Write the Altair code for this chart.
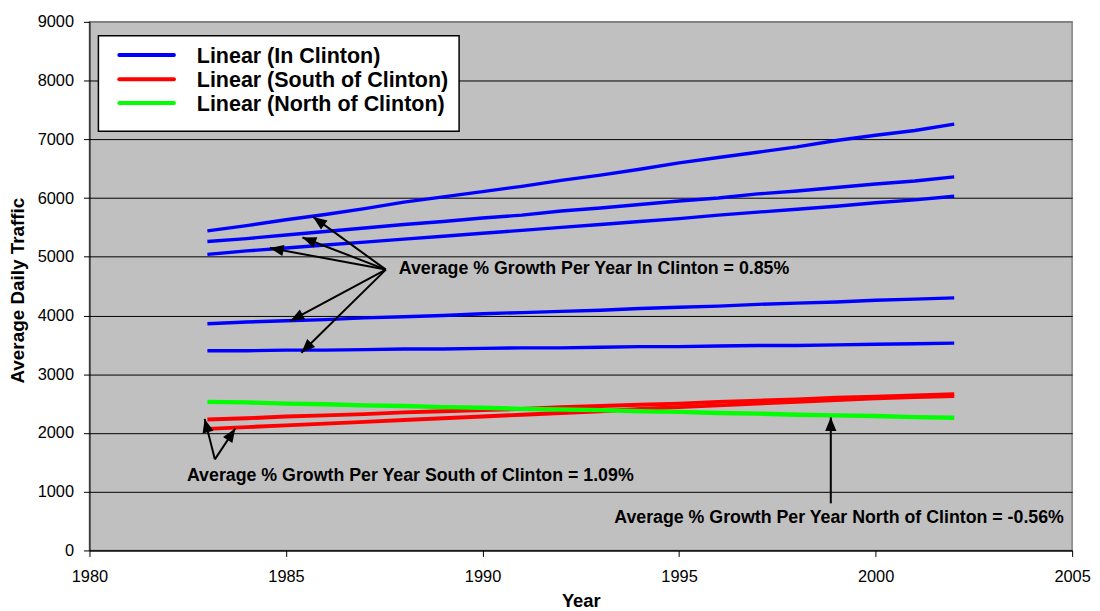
import math
import altair as alt
import pandas as pd

FONT = "Liberation Sans"

# ---------------- data ----------------
years = list(range(1983, 2003))

in_clinton_a = [5440, 5530, 5630, 5720, 5820, 5930, 6020, 6110, 6200, 6300,
                6390, 6490, 6600, 6690, 6780, 6870, 6980, 7070, 7150, 7260]
in_clinton_b = [5260, 5310, 5370, 5430, 5490, 5550, 5600, 5660, 5710, 5780,
                5830, 5890, 5950, 6000, 6070, 6120, 6180, 6240, 6290, 6360]
in_clinton_c = [5040, 5100, 5150, 5200, 5250, 5300, 5350, 5400, 5450, 5500,
                5550, 5600, 5650, 5710, 5760, 5810, 5860, 5920, 5970, 6030]
in_clinton_d = [3860, 3890, 3910, 3930, 3960, 3980, 4000, 4030, 4050, 4070,
                4090, 4120, 4140, 4160, 4190, 4210, 4230, 4260, 4280, 4300]
in_clinton_e = [3400, 3400, 3410, 3410, 3420, 3430, 3430, 3440, 3450, 3450,
                3460, 3470, 3470, 3480, 3490, 3490, 3500, 3510, 3520, 3530]
south_a = [2230, 2250, 2280, 2300, 2320, 2350, 2370, 2390, 2410, 2440,
           2460, 2480, 2500, 2530, 2550, 2570, 2600, 2620, 2640, 2660]
south_b = [2070, 2100, 2130, 2160, 2190, 2220, 2250, 2280, 2310, 2340,
           2370, 2410, 2440, 2470, 2500, 2530, 2560, 2590, 2610, 2630]
north_a = [2530, 2520, 2500, 2490, 2470, 2460, 2440, 2430, 2410, 2400,
           2390, 2370, 2360, 2340, 2330, 2310, 2300, 2290, 2270, 2260]

regions = ["In Clinton", "South of Clinton", "North of Clinton"]
region_colors = ["#0000FF", "#FF0000", "#00FF00"]
legend_labels = ["Linear (In Clinton)", "Linear (South of Clinton)", "Linear (North of Clinton)"]

series_list = [
    ("c1", "In Clinton", in_clinton_a),
    ("c2", "In Clinton", in_clinton_b),
    ("c3", "In Clinton", in_clinton_c),
    ("c4", "In Clinton", in_clinton_d),
    ("c5", "In Clinton", in_clinton_e),
    ("s1", "South of Clinton", south_a),
    ("s2", "South of Clinton", south_b),
    ("n1", "North of Clinton", north_a),
]

x_ticks = [1980, 1985, 1990, 1995, 2000, 2005]
y_ticks = [0, 1000, 2000, 3000, 4000, 5000, 6000, 7000, 8000, 9000]

# annotation arrows (tail -> tip), in data units
arrow_tail_year = [1987.54, 1987.54, 1987.54, 1987.54, 1987.54, 1983.19, 1983.19, 1998.86]
arrow_tail_value = [4782, 4782, 4782, 4782, 4782, 1551, 1551, 802]
arrow_tip_year = [1985.69, 1985.42, 1984.59, 1985.11, 1985.39, 1982.93, 1983.71, 1998.86]
arrow_tip_value = [5679, 5329, 5150, 3908, 3366, 2240, 2076, 2267]

note_texts = [
    "Average % Growth Per Year In Clinton = 0.85%",
    "Average % Growth Per Year South of Clinton = 1.09%",
    "Average % Growth Per Year North of Clinton = -0.56%",
]
note_year = [1987.87, 1982.48, 1993.35]
note_value = [4711, 1184, 463]

# ---------------- layout ----------------
W, H = 989, 532
X_DOM = [1980, 2005]
Y_DOM = [0, 9000]

rows = []
for sid, region, vals in series_list:
    for yr, v in zip(years, vals):
        rows.append({"series": sid, "region": region, "year": yr, "value": v})
df_lines = pd.DataFrame(rows)

px_per_year = W / (X_DOM[1] - X_DOM[0])
px_per_val = H / (Y_DOM[1] - Y_DOM[0])
arrows = []
for tx, ty, hx, hy in zip(arrow_tail_year, arrow_tail_value, arrow_tip_year, arrow_tip_value):
    dx = (hx - tx) * px_per_year
    dy = -(hy - ty) * px_per_val
    ang = math.degrees(math.atan2(dx, -dy)) % 360
    arrows.append({"year": tx, "value": ty, "year2": hx, "value2": hy, "angle": ang})
df_arrows = pd.DataFrame(arrows)

df_notes = pd.DataFrame({"year": note_year, "value": note_value, "text": note_texts})

x_scale = alt.Scale(domain=X_DOM, nice=False, zero=False)
y_scale = alt.Scale(domain=Y_DOM, nice=False, zero=False)

x_axis = alt.Axis(
    values=x_ticks, format="d", title="Year", grid=False,
    tickSize=6, tickColor="black", domainColor="black", domainWidth=1,
    labelPadding=12, labelFontSize=16.5, labelFont=FONT, labelColor="black",
    labelFlush=False, labelOverlap=False,
    titleFont=FONT, titleFontSize=18.5, titleFontWeight="bold", titleColor="black",
    titleY=56, titleBaseline="alphabetic",
)
y_axis = alt.Axis(
    values=y_ticks, format="d", title="Average Daily Traffic", grid=True,
    gridColor={"condition": {"test": "datum.value == 9000", "value": "#808080"}, "value": "black"},
    gridWidth=1, gridOpacity=1,
    tickSize=6, tickColor="black", domainColor="black", domainWidth=1,
    labelPadding=10, labelFontSize=16.5, labelFont=FONT, labelColor="black",
    labelOverlap=False,
    titleFont=FONT, titleFontSize=19, titleFontWeight="bold", titleColor="black",
    titleX=-66, titleY=270, titleAlign="center", titleBaseline="alphabetic",
)

X = lambda f: alt.X(f, scale=x_scale, axis=x_axis, title="Year")
Y = lambda f: alt.Y(f, scale=y_scale, axis=y_axis, title="Average Daily Traffic")

lines = alt.Chart(df_lines).mark_line(strokeCap="butt").encode(
    x=X("year:Q"),
    y=Y("value:Q"),
    detail="series:N",
    order="year:Q",
    color=alt.Color("region:N", scale=alt.Scale(domain=regions, range=region_colors), legend=None),
    strokeWidth=alt.StrokeWidth("region:N", scale=alt.Scale(domain=regions, range=[3.4, 4.4, 3.4]), legend=None),
)

shafts = alt.Chart(df_arrows).mark_rule(color="black", strokeWidth=2).encode(
    x=X("year:Q"),
    y=Y("value:Q"),
    x2="year2:Q",
    y2="value2:Q",
)

heads = alt.Chart(df_arrows).mark_point(
    shape="M0,0L0.65,1.6L-0.65,1.6Z", filled=True, color="black",
    opacity=1, size=300, strokeWidth=0,
).encode(
    x=X("year2:Q"),
    y=Y("value2:Q"),
    angle=alt.Angle("angle:Q", scale=None),
)

notes = alt.Chart(df_notes).mark_text(
    align="left", baseline="alphabetic", font=FONT, fontSize=17.9,
    fontWeight="bold", color="black",
).encode(
    x=X("year:Q"),
    y=Y("value:Q"),
    text="text:N",
)

# legend box (drawn in pixel space of the plot area)
one = alt.Data(values=[{"k": 1}])
legend_layers = [
    alt.Chart(one).mark_rect(fill="white", stroke="black", strokeWidth=1.5).encode(
        x=alt.value(9), x2=alt.value(372), y=alt.value(14), y2=alt.value(110)
    )
]
sym_y = [33.3, 57.7, 81.7]
lab_y = [41.6, 66.0, 90.2]
for i, lab in enumerate(legend_labels):
    legend_layers.append(
        alt.Chart(one).mark_rule(color=region_colors[i], strokeWidth=4, strokeCap="round").encode(
            x=alt.value(30), x2=alt.value(85), y=alt.value(sym_y[i])
        )
    )
    legend_layers.append(
        alt.Chart(one).mark_text(
            align="left", baseline="alphabetic", font=FONT, fontSize=21.6,
            fontWeight="bold", color="black", text=lab,
        ).encode(x=alt.value(108), y=alt.value(lab_y[i]))
    )

chart = alt.layer(lines, shafts, heads, notes, *legend_layers).properties(
    width=W,
    height=H,
    autosize=alt.AutoSizeParams(type="none"),
    padding={"left": 82, "top": 12, "right": 20, "bottom": 58},
    background="white",
).configure_view(
    fill="#C0C0C0", stroke="#808080", strokeWidth=1.5,
)

chart.save("out.html", embed_options={"renderer": "svg", "actions": False})
